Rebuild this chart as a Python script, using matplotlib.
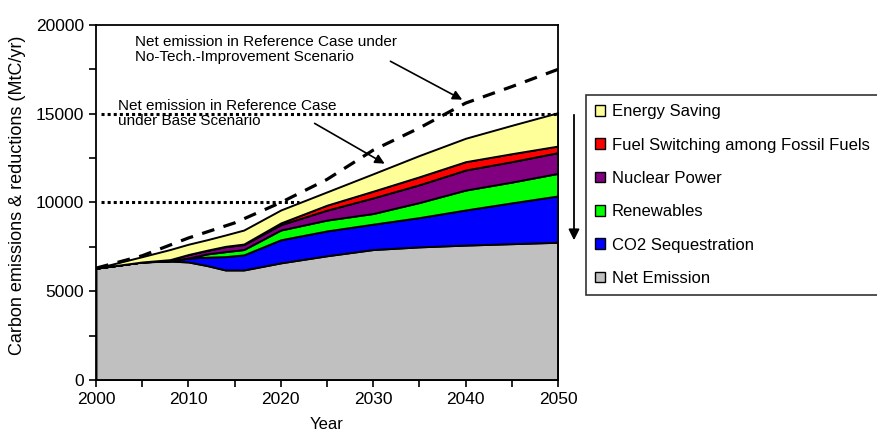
import matplotlib
matplotlib.use("Agg")
import matplotlib.pyplot as plt
from matplotlib.patches import Patch

plt.rcParams['font.family'] = ['Liberation Sans', 'DejaVu Sans']

# annual scenario values, MtC/yr
years = [2000, 2005, 2008, 2010, 2012, 2014, 2016, 2020, 2025, 2030, 2035, 2040, 2045, 2050]
net_emission = [6300, 6650, 6700, 6650, 6450, 6200, 6200, 6600, 7000, 7350, 7500, 7600, 7680, 7760]
co2_sequestration = [0, 0, 20, 220, 470, 750, 850, 1300, 1400, 1430, 1650, 1980, 2300, 2610]
renewables = [0, 0, 0, 0, 180, 280, 300, 550, 610, 600, 850, 1120, 1170, 1270]
nuclear_power = [0, 0, 60, 200, 200, 280, 280, 300, 560, 880, 1000, 1130, 1150, 1170]
fuel_switching = [0, 0, 0, 0, 10, 20, 30, 100, 280, 380, 450, 470, 450, 370]
energy_saving = [0, 300, 570, 580, 590, 640, 790, 730, 750, 980, 1200, 1320, 1600, 1880]

# no-tech-improvement reference
ref_years = [2000, 2005, 2010, 2015, 2020, 2025, 2030, 2035, 2040, 2045, 2050]
ref_no_tech = [6300, 7000, 8000, 8850, 10000, 11300, 12950, 14200, 15600, 16530, 17500]

series = [net_emission, co2_sequestration, renewables, nuclear_power, fuel_switching, energy_saving]
labels = ["Net Emission", "CO2 Sequestration", "Renewables", "Nuclear Power",
          "Fuel Switching among Fossil Fuels", "Energy Saving"]
colors = ["#C0C0C0", "#0000FF", "#00FF00", "#800080", "#FF0000", "#FFFF99"]

fig = plt.figure(figsize=(8.77, 4.36), dpi=100)
ax = fig.add_axes([96 / 877, 56 / 436, 462 / 877, 355 / 436])

ax.stackplot(years, *series, colors=colors, edgecolor="black", linewidth=1.4)

ax.plot(ref_years, ref_no_tech, color="black", linestyle=(0, (4, 3)), linewidth=2.3)

# base-scenario reference levels
ax.plot([2000.5, 2050], [15000, 15000], color="black", linestyle=(0, (1, 1)), linewidth=2.2)
ax.plot([2000.5, 2022], [10000, 10000], color="black", linestyle=(0, (1, 1)), linewidth=2.2)

ax.set_xlim(2000, 2050)
ax.set_ylim(0, 20000)
ax.set_xticks(range(2000, 2051, 10))
ax.set_xticks(range(2000, 2051, 5), minor=True)
ax.set_yticks(range(0, 20001, 5000))
ax.set_yticks(range(0, 20001, 2500), minor=True)
ax.tick_params(axis="both", which="both", direction="out", length=5, width=1.2, labelsize=12.5)
for sp in ax.spines.values():
    sp.set_linewidth(1.3)

ax.set_xlabel("Year", fontsize=12, labelpad=7)
ax.set_ylabel("Carbon emissions & reductions (MtC/yr)", fontsize=13)
ax.yaxis.set_label_coords(-0.152, 0.52)

ax.text(2004.2, 19450, "Net emission in Reference Case under\nNo-Tech.-Improvement Scenario",
        fontsize=11, va="top", ha="left", linespacing=1.15)
ax.text(2002.4, 15850, "Net emission in Reference Case\nunder Base Scenario",
        fontsize=11, va="top", ha="left", linespacing=1.15)

arrow = dict(arrowstyle="-|>", color="black", lw=1.2, mutation_scale=14)
ax.annotate("", xy=(2039.9, 15720), xytext=(2031.6, 18030), arrowprops=arrow)
ax.annotate("", xy=(2031.5, 12110), xytext=(2023.4, 14535), arrowprops=arrow)

# downward arrow beside the legend
fig.add_artist(matplotlib.patches.FancyArrowPatch(
    (574 / 877, 1 - 112 / 436), (574 / 877, 1 - 243 / 436),
    transform=fig.transFigure, arrowstyle="-|>", color="black", lw=1.3, mutation_scale=16))

handles = [Patch(facecolor=c, edgecolor="black", linewidth=1.0) for c in colors[::-1]]
leg = fig.legend(handles, labels[::-1], loc="upper left", bbox_to_anchor=(586 / 877, 1 - 95 / 436),
                 fontsize=12, frameon=True, fancybox=False, edgecolor="black",
                 handlelength=0.6, handleheight=0.6, handletextpad=0.4,
                 labelspacing=1.1, borderpad=0.55, borderaxespad=0)
leg.get_frame().set_linewidth(1.2)

fig.savefig("out.png", dpi=100)
